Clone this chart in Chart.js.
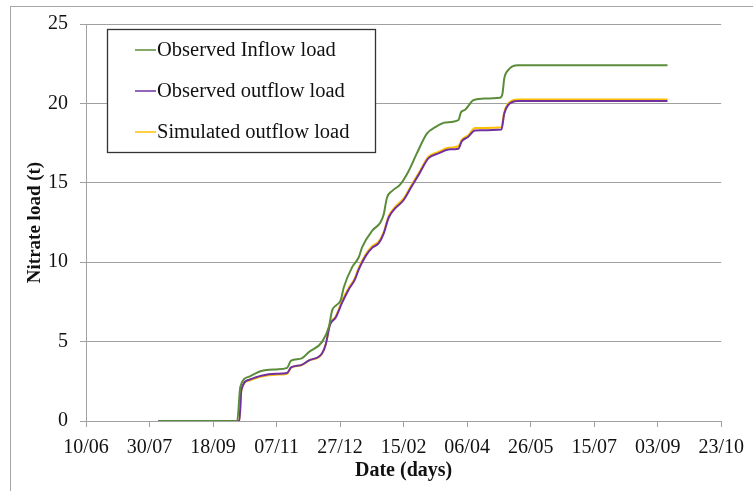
<!DOCTYPE html>
<html>
<head>
<meta charset="utf-8">
<script src="https://cdn.jsdelivr.net/npm/chart.js@4.4.1/dist/chart.umd.min.js"></script>
<style>
html,body{margin:0;padding:0;background:#fff;}
#wrap{width:753px;height:491px;position:relative;}
</style>
</head>
<body>
<div id="wrap"><canvas id="c" width="753" height="491"></canvas></div>
<script>
// x values: days since 10/06
const tickLabels = ["10/06","30/07","18/09","07/11","27/12","15/02","06/04","26/05","15/07","03/09","23/10"];
const seriesNames = ["Observed Inflow load","Observed outflow load","Simulated outflow load"];

const inflowDays = [57,119,121.5,128.5,138,149.7,158.3,161.4,169.3,175.5,185.7,191.2,193.8,196.7,200.4,203,209.5,214.7,217.3,225.2,231.7,234.3,236.9,240.8,247.4,253.9,260.4,268.3,274.8,282.7,293.1,295.2,298.4,304.9,311.4,325.8,327.8,329.2,332.3,340.1,457.7];
const inflowLoad = [0,0,2.15,2.8,3.15,3.25,3.35,3.8,3.93,4.35,4.97,5.94,6.98,7.27,7.6,8.44,9.69,10.31,10.94,11.98,12.5,13.0,14.06,14.48,14.9,15.73,16.85,18.1,18.5,18.8,18.95,19.45,19.6,20.2,20.3,20.35,20.6,21.55,22.1,22.4,22.4];

const outflowDays = [57,120.7,122.3,128.5,138,149.7,158.3,161.4,169.3,175.5,185.7,188.8,192,196.4,201.6,206.9,211.6,214.7,220.2,225.2,230.4,234.3,238.2,243.5,249.9,256.5,261.8,269.6,277.4,285.3,293.1,295.7,300.9,306.2,327,329.2,332.3,340.1,457.7];
const obsOutflowLoad = [0,0,1.95,2.6,2.85,2.97,3.02,3.38,3.52,3.82,4.25,4.85,6.05,6.5,7.45,8.3,8.9,9.55,10.4,10.9,11.2,11.8,12.8,13.4,13.9,14.8,15.5,16.55,16.85,17.1,17.15,17.6,17.9,18.3,18.35,19.35,19.9,20.15,20.15];
const simOutflowLoad = [0,0,1.95,2.55,2.8,2.92,2.98,3.35,3.5,3.8,4.22,4.85,6.1,6.57,7.57,8.4,9.0,9.65,10.5,11.0,11.3,11.9,12.9,13.5,14.0,14.9,15.6,16.65,16.95,17.2,17.3,17.7,18.0,18.45,18.5,19.45,20.0,20.25,20.25];

const colors = ["#5B8C3A","#7030A0","#FFC000"];

function pts(xs, ys){ return xs.map((x,i)=>({x:x,y:ys[i]})); }

const serif = "'Liberation Serif','Times New Roman',serif";

const frame = {
  id:'frame',
  beforeDraw(chart){
    const ctx = chart.ctx;
    ctx.save();
    ctx.fillStyle = '#fff';
    ctx.fillRect(0,0,chart.width,chart.height);
    ctx.strokeStyle = '#a6a6a6';
    ctx.lineWidth = 1;
    ctx.strokeRect(10.5,6.5,800,600);
    ctx.restore();
  }
};

const legendBox = {
  id:'legendBox',
  afterDatasetsDraw(chart){
    const ctx = chart.ctx;
    ctx.save();
    ctx.fillStyle = '#fff';
    ctx.fillRect(107,29,268,123);
    ctx.strokeStyle = '#333';
    ctx.lineWidth = 1.3;
    ctx.strokeRect(107.5,29.5,268,123);
    const rows = [50,91,132];
    ctx.font = "20.5px " + serif;
    ctx.textBaseline = 'middle';
    ctx.fillStyle = '#111';
    chart.data.datasets.forEach((ds,i)=>{
      ctx.strokeStyle = ds.borderColor;
      ctx.lineWidth = 1.5;
      ctx.beginPath();
      ctx.moveTo(135,rows[i]);
      ctx.lineTo(156,rows[i]);
      ctx.stroke();
      ctx.fillText(ds.label,157,rows[i]+1);
    });
    ctx.restore();
  }
};

new Chart(document.getElementById('c'), {
  type:'line',
  data:{
    datasets:[
      {label:seriesNames[0], data:pts(inflowDays,inflowLoad), borderColor:colors[0]},
      {label:seriesNames[1], data:pts(outflowDays,obsOutflowLoad), borderColor:colors[1]},
      {label:seriesNames[2], data:pts(outflowDays,simOutflowLoad), borderColor:colors[2]}
    ].map(d=>Object.assign(d,{borderWidth:2,pointRadius:0,fill:false,cubicInterpolationMode:'monotone'}))
  },
  options:{
    responsive:false,
    animation:false,
    layout:{padding:{left:0,right:29,top:22,bottom:0}},
    plugins:{legend:{display:false},tooltip:{enabled:false}},
    scales:{
      x:{
        type:'linear', min:0, max:500,
        afterFit(s){ s.height = 70; },
        ticks:{stepSize:50, autoSkip:false, maxRotation:0, padding:9, color:'#111',
          font:{family:serif,size:20},
          callback:(v)=>tickLabels[Math.round(v/50)]},
        grid:{drawOnChartArea:false, tickLength:6, color:'#a0a0a0', lineWidth:1},
        border:{color:'#a0a0a0', width:1},
        title:{display:true, text:'Date (days)', color:'#111', font:{family:serif,size:20,weight:'bold'}, padding:{top:0,bottom:8}}
      },
      y:{
        min:0, max:25,
        afterFit(s){ s.width = 86; },
        ticks:{stepSize:5, padding:12, color:'#111', font:{family:serif,size:20}},
        grid:{color:'#a0a0a0', lineWidth:1, tickLength:6},
        border:{color:'#a0a0a0', width:1},
        title:{display:true, text:'Nitrate load (t)', color:'#111', font:{family:serif,size:19,weight:'bold'}, padding:{top:24,bottom:0}}
      }
    }
  },
  plugins:[frame, legendBox]
});
</script>
</body>
</html>
